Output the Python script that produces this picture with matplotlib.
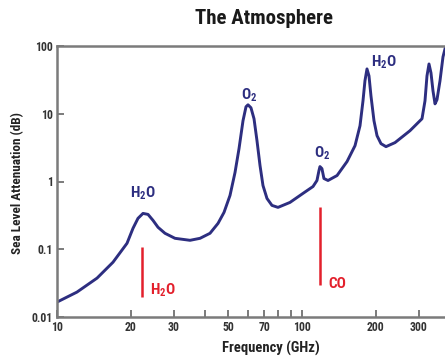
import matplotlib
matplotlib.use("Agg")
import matplotlib.pyplot as plt
from matplotlib import font_manager as fm

# ---- data ----
freq_ghz = [10.0, 12.06, 14.57, 16.93, 19.31, 20.43, 21.41, 22.44, 23.52, 24.65,
            25.84, 27.59, 30.31, 34.91, 38.35, 42.12, 45.42, 48.05, 50.83, 53.28,
            55.33, 57.44, 59.08, 60.2, 61.9, 63.7, 65.5, 67.4, 69.3, 71.96,
            75.4, 79.8, 89.3, 100.9, 110.9, 115.1, 117.3, 118.4, 120.6, 122.9,
            127.7, 139.0, 152.7, 164.6, 172.5, 177.4, 180.7, 184.2, 187.7, 191.2,
            196.7, 202.4, 210.1, 220.2, 239.7, 275.9, 308.9, 317.7, 323.7, 329.9,
            336.1, 342.5, 349.1, 355.6, 365.8, 376.2, 387.0]
atten_db = [0.0166, 0.0233, 0.0375, 0.0644, 0.1225, 0.204, 0.286, 0.338, 0.327, 0.267,
            0.211, 0.172, 0.145, 0.1355, 0.145, 0.172, 0.241, 0.35, 0.622, 1.356,
            3.06, 7.89, 12.68, 13.56, 12.25, 8.44, 4.01, 1.72, 0.873, 0.562,
            0.444, 0.415, 0.491, 0.667, 0.843, 1.035, 1.45, 1.66, 1.55, 1.107,
            1.035, 1.225, 1.97, 3.38, 6.66, 15.5, 30.6, 45.9, 36.2, 18.4,
            7.89, 4.75, 3.62, 3.27, 3.75, 5.62, 8.44, 15.5, 36.2, 54.3,
            40.1, 21.8, 14.0, 16.1, 30.6, 68.9, 103.5]

# absorption-line labels on the curve
peak_labels = ["H$_2$O", "O$_2$", "O$_2$", "H$_2$O"]
peak_label_freq = [22.4, 60.7, 120.6, 216.0]
peak_label_db = [0.667, 19.0, 2.58, 58.2]

# red marker lines (frequency, bottom, top) and labels
marker_labels = ["H$_2$O", "CO"]
marker_freq = [22.24, 118.0]
marker_bottom = [0.0197, 0.030]
marker_top = [0.107, 0.42]
marker_label_freq = [23.96, 127.6]
marker_label_db = [0.0249, 0.0305]

x_ticks = [10, 20, 30, 40, 50, 60, 70, 80, 90, 100, 200, 300]
x_tick_labels = ["10", "20", "30", "", "50", "", "70", "", "", "100", "200", "300"]
y_ticks = [0.01, 0.1, 1, 10, 100]
y_tick_labels = ["0.01", "0.1", "1", "10", "100"]

# pick a narrow font if one is installed
installed = {f.name for f in fm.fontManager.ttflist}
narrow = None
for cand in ["Liberation Sans Narrow", "Roboto Condensed", "Open Sans Condensed",
             "DejaVu Sans Condensed", "Noto Sans Condensed"]:
    if cand in installed:
        narrow = cand
        break
has_dv_cond = any(f.name == "DejaVu Sans" and f.stretch in ("condensed", "semi-condensed", 500 - 100, 400)
                  for f in fm.fontManager.ttflist if isinstance(f.stretch, (str, int)))
if narrow is None:
    narrow = "DejaVu Sans"
    scale = 1.0 if has_dv_cond else 0.86
else:
    scale = 1.0

plt.rcParams["font.family"] = [narrow, "DejaVu Sans"]
plt.rcParams["font.stretch"] = "condensed"
plt.rcParams["mathtext.fontset"] = "custom"
plt.rcParams["mathtext.rm"] = narrow + ":bold"
plt.rcParams["mathtext.it"] = narrow + ":bold"
plt.rcParams["mathtext.bf"] = narrow + ":bold"
plt.rcParams["mathtext.default"] = "rm"

NAVY = "#2d2e80"
RED = "#e3202c"
GRAY = "#7b7b7b"

fig = plt.figure(figsize=(4.45, 3.58), dpi=100)
ax = fig.add_axes([57 / 445, 41 / 358, (449.5 - 57) / 445, 271 / 358])
ax.set_xscale("log")
ax.set_yscale("log")
ax.set_xlim(10, 400)
ax.set_ylim(0.01, 100)

ax.plot(freq_ghz, atten_db, color=NAVY, lw=2.1, solid_joinstyle="round",
        solid_capstyle="round", clip_on=True)

for lab, f, v in zip(peak_labels, peak_label_freq, peak_label_db):
    ax.text(f, v, lab, color=NAVY, fontsize=11 * scale, fontweight="bold",
            fontstretch="condensed", ha="center", va="center")

for f, b, t in zip(marker_freq, marker_bottom, marker_top):
    ax.plot([f, f], [b, t], color=RED, lw=1.8, solid_capstyle="butt")
for lab, f, v in zip(marker_labels, marker_label_freq, marker_label_db):
    ax.text(f, v, lab, color=RED, fontsize=11 * scale, fontweight="bold",
            fontstretch="condensed", ha="left", va="center")

ax.minorticks_off()
ax.set_xticks(x_ticks)
ax.set_xticklabels(x_tick_labels)
ax.set_yticks(y_ticks)
ax.set_yticklabels(y_tick_labels)
ax.tick_params(axis="both", direction="in", length=5, width=1.4, color=GRAY,
               labelsize=8.5 * scale, labelcolor="#333333", pad=3)
for lbl in ax.get_xticklabels() + ax.get_yticklabels():
    lbl.set_fontweight("bold")
    lbl.set_fontstretch("condensed")

for side in ["left", "bottom", "top"]:
    ax.spines[side].set_color(GRAY)
    ax.spines[side].set_linewidth(1.8)
ax.spines["right"].set_visible(False)

fig.text(264 / 445, 1 - 19 / 358, "The Atmosphere", ha="center", va="center",
         fontsize=15 * scale, fontweight="bold", fontstretch="condensed",
         color="#1a1a1a")
fig.text(271 / 445, 1 - 348 / 358, "Frequency (GHz)", ha="center", va="center",
         fontsize=10.5 * scale, fontweight="bold", fontstretch="condensed",
         color="#222222")
fig.text(18 / 445, 1 - 183 / 358, "Sea Level Attenuation (dB)", ha="center",
         va="center", rotation=90, fontsize=9.5 * scale, fontweight="bold",
         fontstretch="condensed", color="#222222")

fig.savefig("out.png", dpi=100, facecolor="white")
